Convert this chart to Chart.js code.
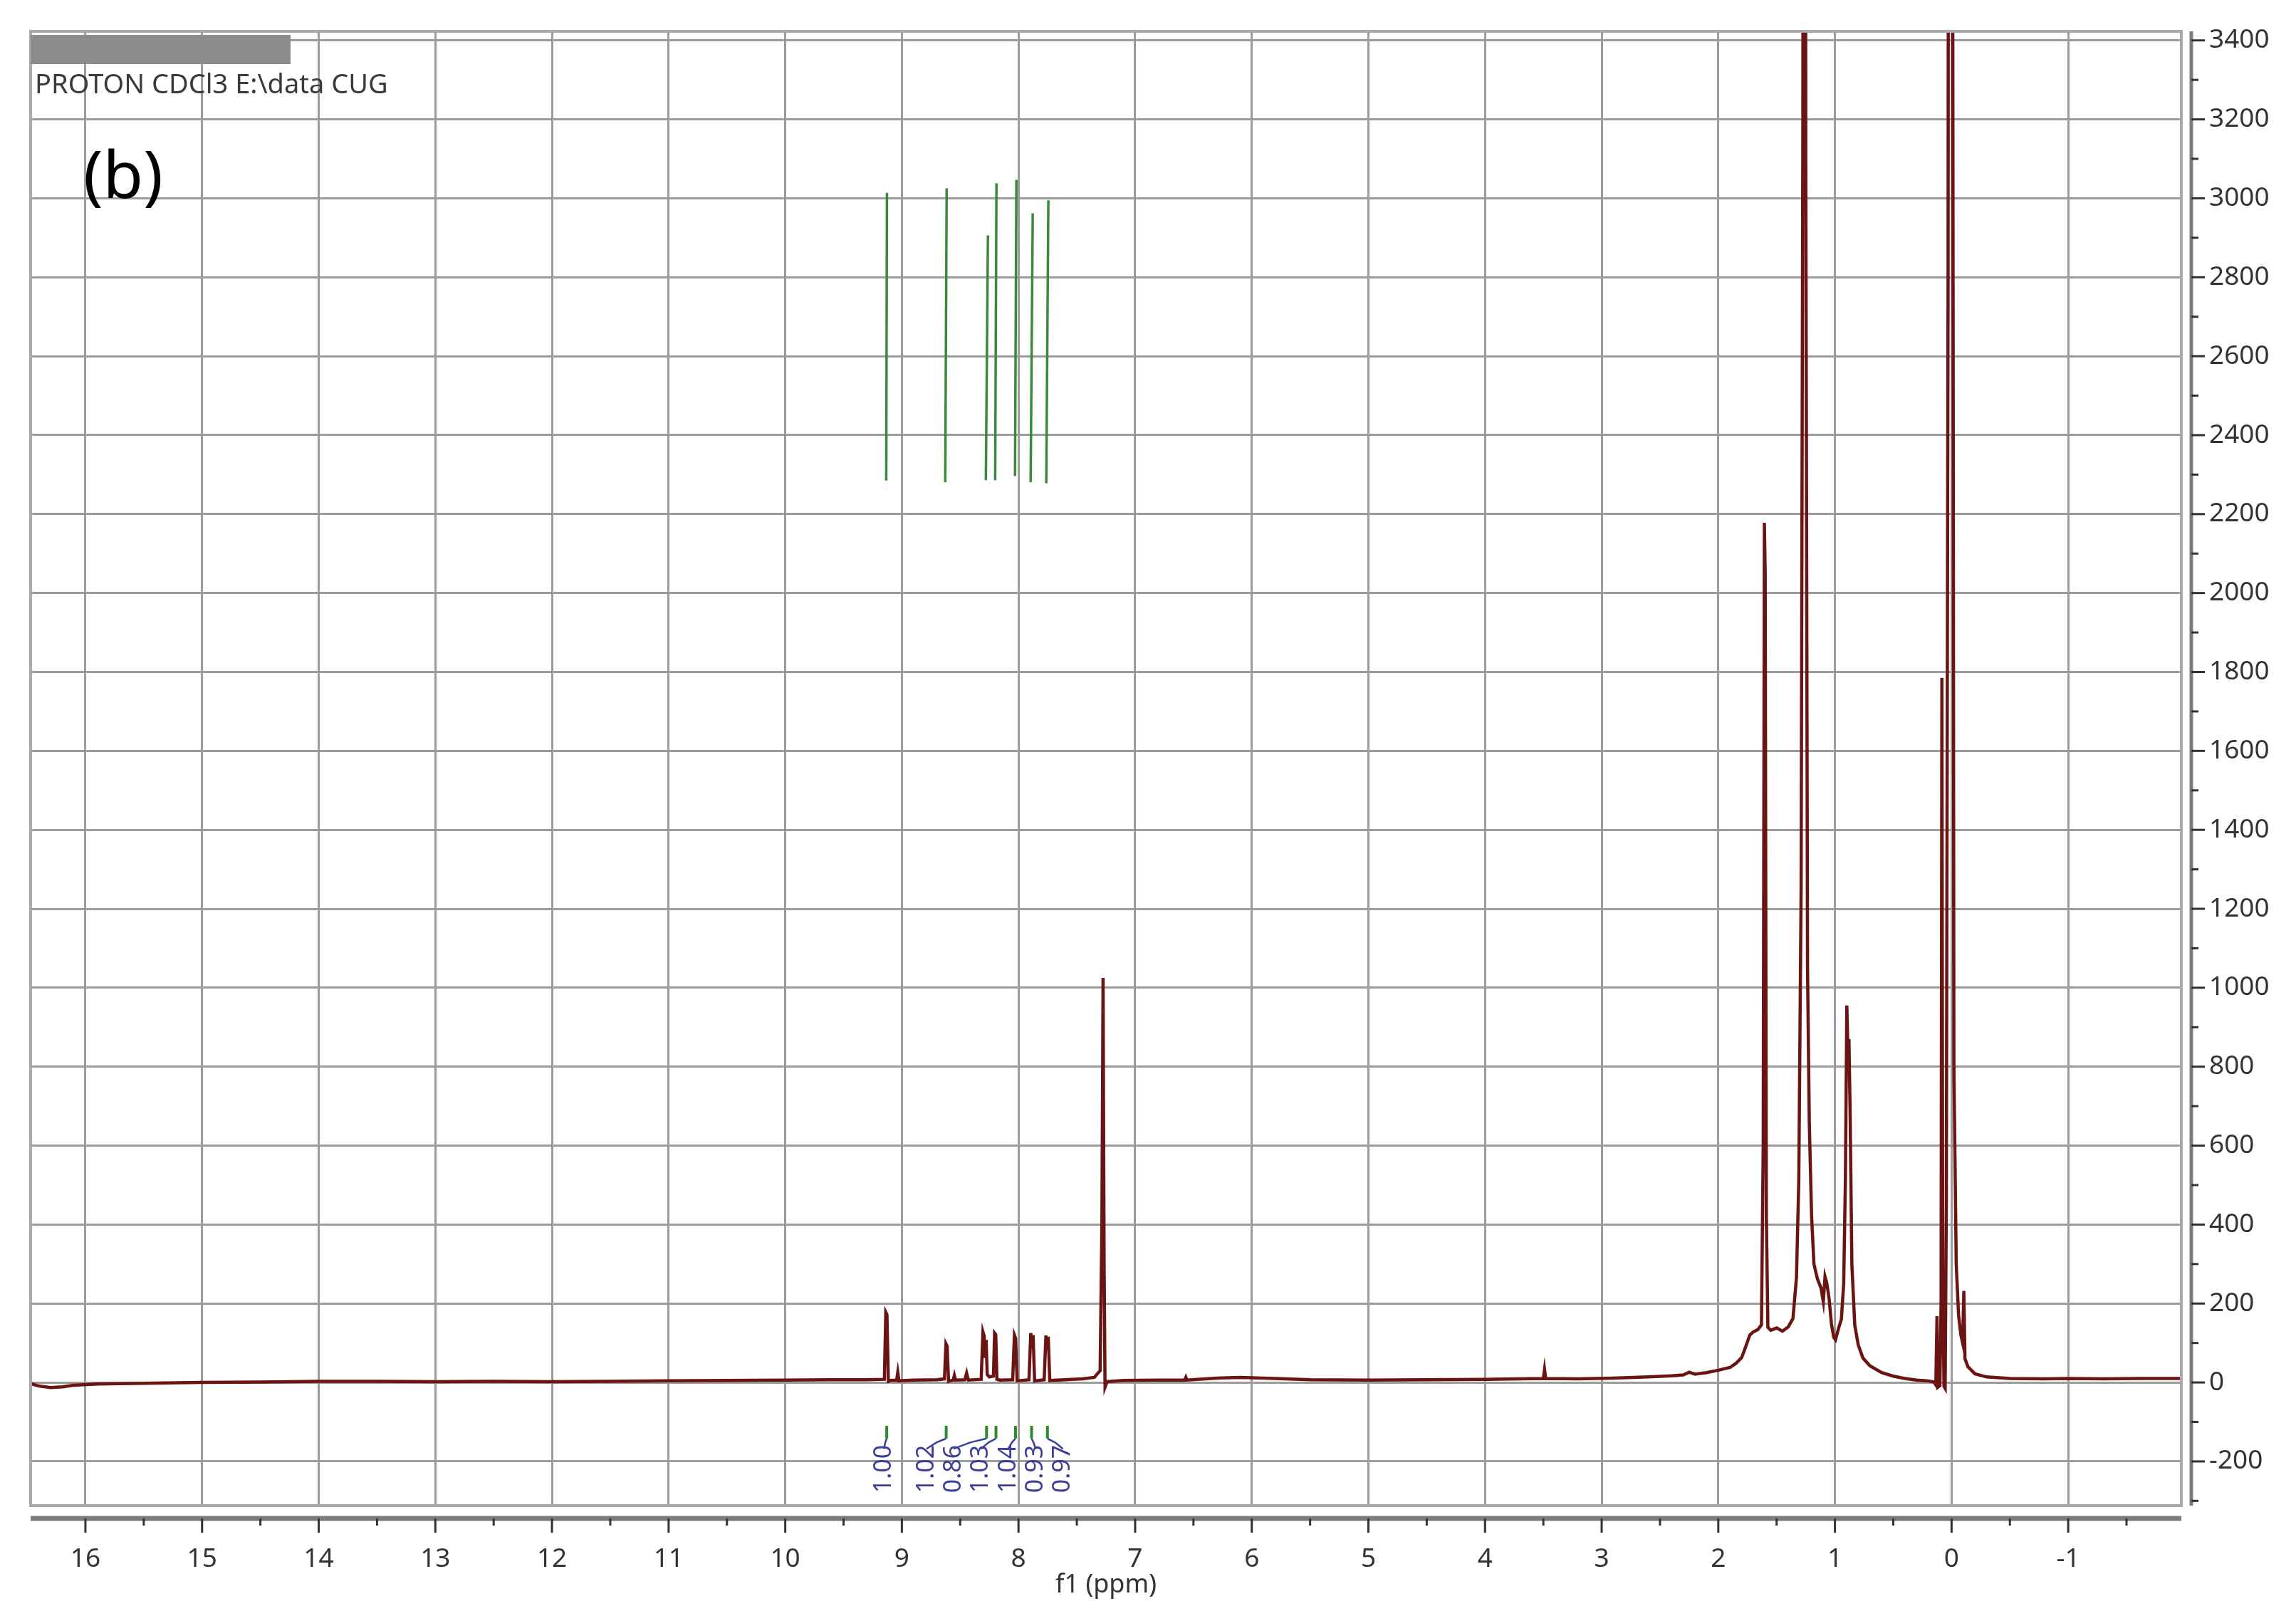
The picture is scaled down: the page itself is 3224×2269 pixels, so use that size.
<!DOCTYPE html>
<html>
<head>
<meta charset="utf-8">
<script src="https://cdn.jsdelivr.net/npm/chart.js@4.4.1/dist/chart.umd.min.js"></script>
<style>
  html, body { margin: 0; background: #fff; }
  #wrap { width: 3224px; height: 2269px; }
</style>
</head>
<body>
<div id="wrap"><canvas id="nmr"></canvas></div>
<script>
// 1H NMR trace: shift (ppm) and intensity
const specPpm = [
  16.47, 16.40, 16.30, 16.20, 16.10, 15.90, 15.50, 15.00, 14.50, 14.00, 13.50, 13.00,
  12.50, 12.00, 11.50, 11.00, 10.50, 10.00, 9.60, 9.30,
  9.150, 9.138, 9.128, 9.116, 9.100, 9.045, 9.035, 9.025, 8.900, 8.700,
  8.635, 8.622, 8.612, 8.600, 8.560, 8.550, 8.540, 8.460, 8.445, 8.430,
  8.320, 8.305, 8.295, 8.285, 8.278, 8.268, 8.250, 8.215, 8.205, 8.195, 8.185, 8.160,
  8.050, 8.035, 8.025, 8.012, 7.910, 7.895, 7.883, 7.875, 7.862,
  7.780, 7.765, 7.752, 7.745, 7.732, 7.600, 7.450, 7.350, 7.300,
  7.285, 7.275, 7.266, 7.258, 7.240, 7.100, 6.800, 6.575, 6.565, 6.555,
  6.300, 6.100, 5.800, 5.500, 5.000, 4.500, 4.000, 3.700, 3.500, 3.490, 3.480,
  3.200, 2.900, 2.600, 2.400, 2.300, 2.250, 2.200, 2.100, 2.000, 1.900, 1.850,
  1.800, 1.760, 1.730, 1.700, 1.660, 1.630, 1.615, 1.605, 1.598, 1.588, 1.575,
  1.550, 1.500, 1.450, 1.400, 1.360, 1.330, 1.310, 1.290, 1.275, 1.262, 1.250,
  1.235, 1.220, 1.200, 1.180, 1.150, 1.120, 1.100, 1.085, 1.070, 1.050, 1.030,
  1.010, 0.995, 0.970, 0.945, 0.925, 0.910, 0.898, 0.888, 0.880, 0.870, 0.855,
  0.830, 0.800, 0.760, 0.700, 0.600, 0.500, 0.400, 0.300, 0.200, 0.150, 0.135,
  0.125, 0.118, 0.100, 0.090, 0.083, 0.076, 0.065, 0.055, 0.045, 0.030, 0.010,
  -0.005, -0.020, -0.040, -0.060, -0.080, -0.095, -0.105, -0.115, -0.140, -0.200,
  -0.300, -0.500, -0.800, -1.000, -1.300, -1.600, -1.970
];
const specInt = [
  -3, -9, -13, -11, -7, -4, -2, 0, 1, 3, 3, 2,
  3, 2, 3, 4, 5, 6, 7, 7,
  8, 178, 172, 3, 5, 6, 26, 4, 6, 7,
  9, 98, 92, 3, 6, 18, 6, 7, 24, 6,
  8, 128, 118, 62, 108, 20, 14, 16, 125, 121, 8, 6,
  7, 120, 112, 4, 7, 125, 88, 120, 4,
  7, 119, 82, 116, 5, 7, 9, 13, 30,
  400, 1025, 300, -12, 2, 5, 6, 6, 13, 6,
  11, 13, 10, 7, 6, 7, 8, 9, 10, 33, 10,
  9, 11, 14, 17, 19, 26, 21, 25, 31, 38, 48,
  63, 95, 120, 128, 134, 146, 600, 2178, 2050, 420, 140,
  132, 138, 130, 141, 162, 265, 510, 1250, 3200, 9000, 3100,
  1050, 660, 420, 300, 262, 240, 205, 268, 252, 212, 148,
  114, 108, 136, 160, 250, 520, 955, 830, 870, 690, 300,
  145, 95, 62, 42, 25, 16, 10, 6, 4, 1, -6,
  168, -12, -8, 200, 1785, 280, -10, -15, 450, 2800, 12000,
  5000, 800, 300, 170, 120, 100, 232, 60, 40, 22,
  14, 10, 9, 10, 9, 10, 10
];

// green peak-pick lines (bottom end / top end)
const pickPpmBot = [9.134, 8.628, 8.280, 8.200, 8.030, 7.896, 7.762];
const pickIntBot = [2285, 2281, 2286, 2286, 2296, 2281, 2278];
const pickPpmTop = [9.128, 8.616, 8.262, 8.189, 8.018, 7.878, 7.744];
const pickIntTop = [3014, 3025, 2906, 3038, 3047, 2962, 2995];

// integrals
const integPpm = [9.130, 8.620, 8.274, 8.193, 8.026, 7.888, 7.752];
const integLabelPpm = [9.154, 8.788, 8.555, 8.321, 8.087, 7.854, 7.620];
const integValues = ['1.00', '1.02', '0.86', '1.03', '1.04', '0.93', '0.97'];

const xTicks = [16, 15, 14, 13, 12, 11, 10, 9, 8, 7, 6, 5, 4, 3, 2, 1, 0, -1];
const yTicks = [-200, 0, 200, 400, 600, 800, 1000, 1200, 1400, 1600, 1800, 2000,
  2200, 2400, 2600, 2800, 3000, 3200, 3400];

const FONT = '"Noto Sans", "Open Sans", sans-serif';

// join several little polylines into one dataset, separated by gaps
function joinSegments(segs) {
  const out = [];
  segs.forEach((seg, i) => {
    if (i) out.push({ x: seg[0].x, y: null });
    out.push(...seg);
  });
  return out;
}

const spectrum = specPpm.map((p, i) => ({ x: p, y: specInt[i] }));
const pickLines = joinSegments(pickPpmTop.map((p, i) => [
  { x: pickPpmBot[i], y: pickIntBot[i] }, { x: p, y: pickIntTop[i] }
]));
const integTicks = joinSegments(integPpm.map(p => [{ x: p, y: -110 }, { x: p, y: -142 }]));
const integLinks = joinSegments(integPpm.map((p, i) => [
  { x: p, y: -142 },
  { x: (p + integLabelPpm[i]) / 2, y: -152 },
  { x: integLabelPpm[i], y: -168 }
]));

const decor = {
  id: 'decor',
  afterDraw(chart) {
    const { ctx, chartArea: a, scales: { x, y } } = chart;
    ctx.save();

    // plot frame
    ctx.strokeStyle = '#a9a9a9';
    ctx.lineWidth = 4;
    ctx.strokeRect(a.left, a.top, a.right - a.left, a.bottom - a.top);

    // right axis with ticks
    const ax = a.right + 14;
    ctx.strokeStyle = '#7c7c7c';
    ctx.lineWidth = 5;
    ctx.beginPath(); ctx.moveTo(ax, a.top); ctx.lineTo(ax, a.bottom); ctx.stroke();
    ctx.strokeStyle = '#333';
    ctx.lineWidth = 3;
    yTicks.forEach(v => {
      const py = y.getPixelForValue(v);
      ctx.beginPath(); ctx.moveTo(ax, py); ctx.lineTo(ax + 19, py); ctx.stroke();
      const pm = y.getPixelForValue(v - 100);
      ctx.beginPath(); ctx.moveTo(ax, pm); ctx.lineTo(ax + 10, pm); ctx.stroke();
    });

    // bottom axis with ticks
    const ay = a.bottom + 18;
    ctx.strokeStyle = '#7c7c7c';
    ctx.lineWidth = 7;
    ctx.beginPath(); ctx.moveTo(a.left, ay); ctx.lineTo(a.right, ay); ctx.stroke();
    ctx.strokeStyle = '#333';
    ctx.lineWidth = 3;
    xTicks.forEach(v => {
      const px = x.getPixelForValue(v);
      ctx.beginPath(); ctx.moveTo(px, ay); ctx.lineTo(px, ay + 20); ctx.stroke();
      const pm = x.getPixelForValue(v - 0.5);
      ctx.beginPath(); ctx.moveTo(pm, ay); ctx.lineTo(pm, ay + 10); ctx.stroke();
    });

    // header
    ctx.fillStyle = '#8c8c8c';
    ctx.fillRect(a.left, 49, 365, 41);
    ctx.fillStyle = '#3a3a3a';
    ctx.font = '38px ' + FONT;
    ctx.textBaseline = 'alphabetic';
    ctx.textAlign = 'left';
    ctx.fillText('PROTON CDCl3 E:\\data CUG', 49, 131);
    ctx.fillStyle = '#000';
    ctx.font = '92px ' + FONT;
    ctx.fillText('(b)', 117, 278);

    // integral values, rotated
    ctx.fillStyle = '#3b3f96';
    ctx.font = '34px "Liberation Sans Narrow", ' + FONT;
    ctx.textAlign = 'center';
    ctx.textBaseline = 'middle';
    integValues.forEach((t, i) => {
      ctx.save();
      ctx.translate(x.getPixelForValue(integLabelPpm[i]), y.getPixelForValue(-219));
      ctx.rotate(-Math.PI / 2);
      ctx.fillText(t, 0, 0);
      ctx.restore();
    });

    ctx.restore();
  }
};

new Chart(document.getElementById('nmr'), {
  type: 'line',
  data: {
    datasets: [
      { data: spectrum, borderColor: '#6b1414', borderWidth: 4.5, pointRadius: 0, tension: 0 },
      { data: pickLines, borderColor: '#3a8a3a', borderWidth: 3.5, pointRadius: 0 },
      { data: integTicks, borderColor: '#2e8a2e', borderWidth: 4, pointRadius: 0 },
      { data: integLinks, borderColor: '#3b3f96', borderWidth: 2.5, pointRadius: 0 }
    ]
  },
  options: {
    responsive: true,
    maintainAspectRatio: false,
    devicePixelRatio: 1,
    animation: false,
    layout: { padding: { left: 43, top: 44, right: 0, bottom: 0 } },
    plugins: { legend: { display: false }, tooltip: { enabled: false } },
    scales: {
      x: {
        type: 'linear',
        reverse: true,
        min: -1.97,
        max: 16.47,
        afterBuildTicks: s => { s.ticks = xTicks.map(v => ({ value: v })); },
        afterFit: s => { s.height = 155; },
        grid: { color: '#9c9c9c', lineWidth: 3, drawTicks: true, tickLength: 53, tickColor: 'rgba(0,0,0,0)' },
        border: { display: false },
        ticks: { padding: 0, autoSkip: false, maxRotation: 0, color: '#333', font: { family: FONT, size: 37 },
          callback: v => String(v) },
        title: { display: true, text: 'f1 (ppm)', color: '#333', font: { family: FONT, size: 36 }, padding: { top: 0, bottom: 22 } }
      },
      y: {
        position: 'right',
        min: -312,
        max: 3423,
        afterBuildTicks: s => { s.ticks = yTicks.map(v => ({ value: v })); },
        afterFit: s => { s.width = 161; },
        grid: { color: '#9c9c9c', lineWidth: 3, drawTicks: true, tickLength: 39, tickColor: 'rgba(0,0,0,0)' },
        border: { display: false },
        ticks: { padding: 0, color: '#333', font: { family: FONT, size: 37 }, callback: v => String(v) }
      }
    }
  },
  plugins: [decor]
});
</script>
</body>
</html>
